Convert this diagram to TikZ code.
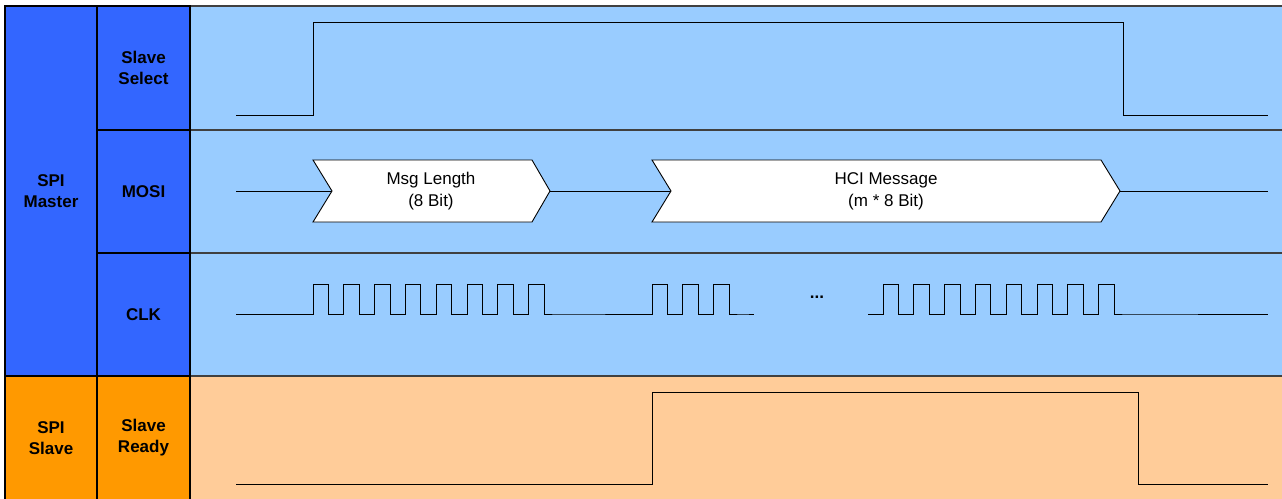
\documentclass[tikz,border=0pt]{standalone}
\usepackage{fontspec}
\setmainfont{Liberation Sans}
\definecolor{masterdark}{HTML}{3366FF}
\definecolor{masterlight}{HTML}{99CCFF}
\definecolor{slavedark}{HTML}{FF9900}
\definecolor{slavelight}{HTML}{FFCC99}
\definecolor{framegray}{HTML}{404040}
\begin{document}
\begin{tikzpicture}[x=1pt, y=-1pt,
    cell/.style={draw=black, line width=1.2pt, inner sep=0pt, align=center, font=\fontsize{17}{21}\selectfont\bfseries},
    frame/.style={draw=framegray, line width=1.3pt},
    wave/.style={draw=black, line width=0.9pt},
    field/.style={wave, fill=white, line join=miter},
    fieldtext/.style={align=center, inner sep=0pt, font=\fontsize{17}{22}\selectfont}
]

\useasboundingbox (0,0) rectangle (1282,498);
\clip (0,0) rectangle (1282,498);

% Background
\fill[white] (0,0) rectangle (1282,498);
\fill[masterlight] (190,6) rectangle (1290,376);
\fill[slavelight] (190,376) rectangle (1290,505);

% Row lines
\draw[frame] (190,6) -- (1290,6);
\draw[frame] (190,130) -- (1290,130);
\draw[frame] (190,253) -- (1290,253);
\draw[frame] (190,376) -- (1290,376);

% Label cells
\node[cell, fill=masterdark, minimum width=92pt, minimum height=370pt] (master) at (51,191) {SPI\\Master};
\node[cell, fill=slavedark, minimum width=92pt, minimum height=124pt] (slave) at (51,438) {SPI\\Slave};
\node[cell, fill=masterdark, minimum width=93pt, minimum height=124pt] (ss) at (143.5,68) {Slave\\Select};
\node[cell, fill=masterdark, minimum width=93pt, minimum height=123pt] (mosi) at (143.5,191.5) {MOSI};
\node[cell, fill=masterdark, minimum width=93pt, minimum height=123pt] (clk) at (143.5,314.5) {CLK};
\node[cell, fill=slavedark, minimum width=93pt, minimum height=124pt] (ready) at (143.5,438) {Slave\\Ready};

% Slave Select
\draw[wave] (236,115) -- (313,115) -- (313,22) -- (1123,22) -- (1123,115) -- (1268,115);

% MOSI
\coordinate (lennotch) at (332,191);
\coordinate (lentip) at (550,191);
\coordinate (hcinotch) at (671,191);
\coordinate (hcitip) at (1120,191);
\draw[wave] (236,191) -- (lennotch);
\draw[field] (313,160) -- (532,160) -- (lentip) -- (532,222) -- (313,222) -- (lennotch) -- cycle;
\node[fieldtext] (msglen) at (431,191) {Msg Length\\(8 Bit)};
\draw[wave] (lentip) -- (hcinotch);
\draw[field] (652,160) -- (1101,160) -- (hcitip) -- (1101,222) -- (652,222) -- (hcinotch) -- cycle;
\node[fieldtext] (hcimsg) at (886,191) {HCI Message\\(m * 8 Bit)};
\draw[wave] (hcitip) -- (1268,191);

% CLK
\draw[wave] (236,314) -- (313,314)
    \foreach \p in {1,...,8}{ -- ++(0,-30) -- ++(15.4,0) -- ++(0,30) -- ++(15.4,0)}
    -- (652,314)
    \foreach \p in {1,...,3}{ -- ++(0,-30) -- ++(15.4,0) -- ++(0,30) -- ++(15.4,0)}
    -- (754,314);
\node[fieldtext, font=\fontsize{17}{22}\selectfont\bfseries] (gap) at (817,297) {...};
\draw[wave] (868,314) -- (883,314)
    \foreach \p in {1,...,8}{ -- ++(0,-30) -- ++(15.4,0) -- ++(0,30) -- ++(15.4,0)}
    -- (1268,314);

% Slave Ready
\draw[wave] (236,484) -- (652,484) -- (652,392) -- (1138,392) -- (1138,484) -- (1268,484);

\end{tikzpicture}
\end{document}
